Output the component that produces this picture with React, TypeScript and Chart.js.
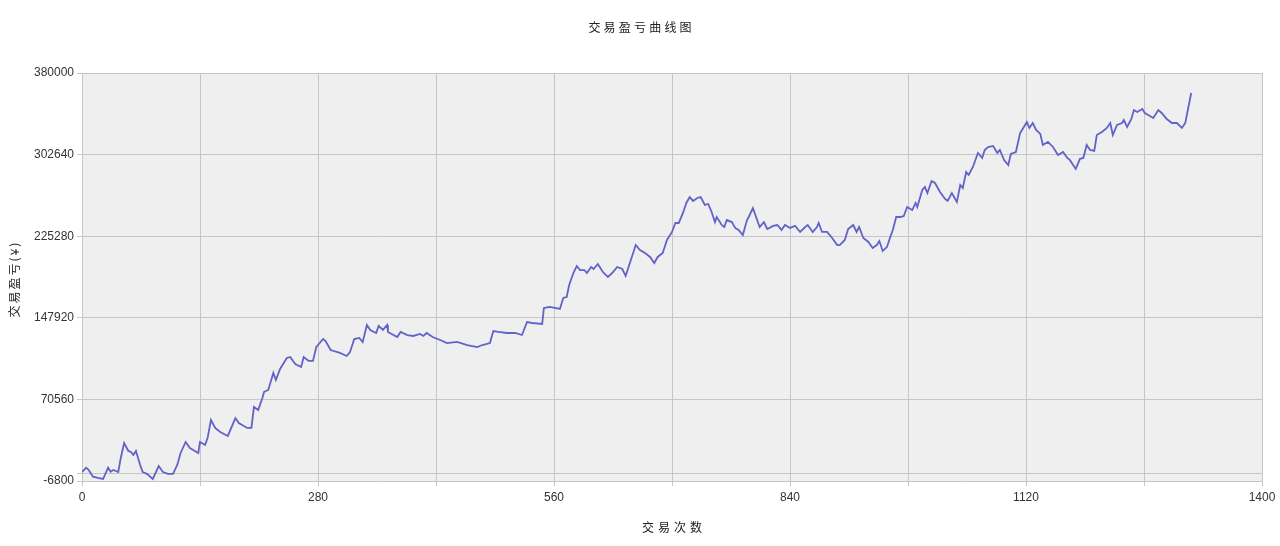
import { useEffect, useRef } from 'react';
import { Chart, registerables, type ChartConfiguration, type Plugin } from 'chart.js';

Chart.register(...registerables);

const TRADE_NO = [
  0, 5, 8, 13, 19, 25, 31, 34, 37, 43, 46, 50, 55, 58, 61, 64, 69, 72, 77, 84,
  91, 96, 102, 108, 113, 117, 123, 128, 138, 140, 146, 149, 153, 158, 164, 173, 182, 186, 196, 201,
  204, 209, 214, 216, 221, 227, 230, 235, 243, 247, 253, 260, 263, 269, 274, 278, 282, 286, 289, 295,
  306, 314, 318, 323, 329, 333, 338, 342, 349, 352, 357, 362, 363, 374, 378, 386, 393, 401, 405, 409,
  416, 425, 433, 445, 457, 469, 475, 484, 488, 494, 504, 514, 522, 528, 534, 546, 548, 555, 567, 571,
  575, 578, 583, 587, 591, 596, 599, 604, 607, 612, 618, 624, 630, 635, 641, 645, 650, 657, 662, 668,
  674, 679, 683, 689, 694, 700, 704, 708, 713, 717, 721, 725, 730, 734, 739, 743, 747, 751, 753, 759,
  762, 765, 771, 775, 779, 784, 789, 791, 796, 801, 804, 809, 813, 820, 825, 830, 834, 840, 846, 852,
  858, 861, 867, 872, 874, 878, 884, 890, 896, 899, 905, 909, 915, 919, 922, 927, 933, 938, 943, 946,
  950, 955, 959, 962, 966, 971, 975, 979, 985, 989, 991, 997, 1000, 1003, 1008, 1012, 1018, 1024, 1027, 1032,
  1036, 1038, 1042, 1045, 1049, 1052, 1057, 1063, 1068, 1071, 1075, 1081, 1086, 1089, 1094, 1099, 1102, 1108, 1113, 1116,
  1121, 1124, 1128, 1132, 1137, 1140, 1146, 1152, 1158, 1164, 1169, 1172, 1179, 1184, 1188, 1192, 1196, 1201, 1204, 1210,
  1216, 1220, 1223, 1228, 1234, 1236, 1240, 1245, 1248, 1252, 1258, 1261, 1265, 1271, 1277, 1281, 1287, 1293, 1299, 1305,
  1309, 1312, 1316,
];

// cumulative profit at each sampled trade
const PROFIT = [
  1700, 5800, 3600, -2700, -3900, -4900, 5800, 2000, 3600, 1700, 15000, 29200, 21700, 20700, 17900, 21700, 8400, 1700, 0, -4900,
  7400, 1700, -100, -100, 8400, 19800, 30200, 24500, 19800, 30200, 27300, 34000, 51000, 43500, 39700, 35900, 52900, 48200, 43500, 43500,
  63400, 60500, 71900, 77600, 79500, 95600, 89000, 99400, 109800, 110800, 104100, 101300, 110800, 107000, 107000, 120200, 124000, 127800, 125900, 117400,
  114600, 111700, 115500, 127800, 128800, 125000, 141100, 136400, 133500, 140200, 136400, 141100, 134500, 129700, 134500, 131600, 130700, 132600, 130700, 133500,
  129700, 126900, 124000, 125000, 122100, 120200, 122100, 124000, 135400, 134500, 133500, 133500, 131600, 143900, 143000, 142100, 157200, 158200, 156300, 166700,
  167600, 179000, 190400, 197000, 193200, 193200, 190400, 196100, 194200, 198900, 191300, 186600, 191300, 196100, 194200, 187600, 199900, 216900, 212200, 209400,
  205600, 199900, 205600, 209400, 221700, 229300, 237800, 237800, 247300, 256800, 262400, 258700, 261500, 262400, 254900, 255800, 248200, 238700, 243500, 235900,
  234000, 240600, 238700, 233100, 231200, 226400, 240600, 243500, 252000, 240600, 234000, 238700, 232100, 235000, 235900, 231200, 235900, 233100, 235000, 229300,
  234000, 235900, 229300, 234000, 237800, 229300, 229300, 223600, 216900, 216900, 221700, 232100, 235900, 229300, 234000, 223600, 219800, 214100, 216900, 220700,
  211300, 215000, 224500, 231200, 243500, 243500, 244400, 253000, 250100, 256800, 253000, 269100, 271900, 266200, 277600, 275700, 267200, 260600, 258700, 266200,
  260600, 257700, 273800, 271000, 286100, 283300, 290900, 304200, 299400, 307000, 309800, 310800, 304200, 307000, 297500, 292800, 303200, 305100, 323100, 326900,
  333500, 327900, 332600, 326000, 322200, 311800, 314700, 309900, 302300, 305200, 299500, 297600, 289100, 298600, 299500, 311800, 307000, 306100, 321200, 324100,
  327900, 332600, 321200, 330700, 332600, 335400, 328800, 336400, 344900, 343000, 345900, 342100, 340200, 337300, 344900, 342100, 336400, 332600, 332600, 327900,
  332600, 344900, 361000,
];

const Y_MIN = -6800;
const Y_MAX = 380000;
const Y_STEP = 77360;
const X_MAX = 1400;
const X_STEP = 140;
const X_LABEL_STEP = 280;

const TITLE = '交易盈亏曲线图';
const X_TITLE = '交易次数';
const Y_TITLE = '交易盈亏(¥)';

const TICK_FONT = { family: '"Liberation Sans", Arial, sans-serif', size: 12 };
const CJK_FAMILY = '"Noto Sans CJK SC", "Liberation Sans", sans-serif';

export default function App() {
  const canvasRef = useRef<HTMLCanvasElement>(null);

  useEffect(() => {
    const canvas = canvasRef.current;
    if (!canvas) return;

    const plotBg: Plugin = {
      id: 'plotBg',
      beforeDraw(c) {
        const a = c.chartArea;
        if (!a) return;
        const ctx = c.ctx;
        ctx.save();
        ctx.fillStyle = '#efefef';
        ctx.fillRect(a.left, a.top, a.right - a.left, a.bottom - a.top);
        ctx.restore();
      },
    };

    // the titles are spaced out a little, which the built-in title can't do
    const spacedTitles: Plugin = {
      id: 'spacedTitles',
      afterDraw(c) {
        const a = c.chartArea;
        const ctx = c.ctx as CanvasRenderingContext2D & { letterSpacing?: string };
        const put = (text: string, x: number, y: number, rot: number, sp: number) => {
          ctx.save();
          ctx.letterSpacing = sp + 'px';
          ctx.font = '12px ' + CJK_FAMILY;
          ctx.fillStyle = '#222';
          ctx.textAlign = 'center';
          ctx.textBaseline = 'middle';
          ctx.translate(x, y);
          ctx.rotate(rot);
          ctx.fillText(text, sp / 2, 0);
          ctx.restore();
        };
        put(TITLE, c.width / 2, 27, 0, 3.2);
        put(X_TITLE, (a.left + a.right) / 2, 527, 0, 4);
        put(Y_TITLE, 14, (a.top + a.bottom) / 2 + 3, -Math.PI / 2, 2);
      },
    };

    const data = TRADE_NO.map((t, i) => ({ x: t, y: PROFIT[i] }));

    const config: ChartConfiguration<'line'> = {
      type: 'line',
      data: {
        datasets: [
          {
            label: '交易盈亏',
            data,
            borderColor: '#6262c8',
            borderWidth: 1.8,
            pointRadius: 0,
            tension: 0,
            fill: false,
          },
        ],
      },
      options: {
        responsive: false,
        maintainAspectRatio: false,
        animation: false,
        layout: { padding: { left: 0, right: 18, top: 73, bottom: 0 } },
        plugins: {
          legend: { display: false },
          tooltip: { enabled: false },
          title: { display: false },
        },
        scales: {
          x: {
            type: 'linear',
            min: 0,
            max: X_MAX,
            afterFit: (s) => {
              s.height = 65;
            },
            ticks: {
              stepSize: X_STEP,
              autoSkip: false,
              maxRotation: 0,
              color: '#333',
              font: TICK_FONT,
              padding: 4,
              callback: (v) => (Number(v) % X_LABEL_STEP === 0 ? String(v) : ''),
            },
            grid: { color: '#c6c6c6', tickLength: 5, lineWidth: 1 },
            border: { color: '#c6c6c6' },
          },
          y: {
            type: 'linear',
            min: Y_MIN,
            max: Y_MAX,
            afterFit: (s) => {
              s.width = 82;
            },
            afterBuildTicks: (s) => {
              s.ticks.push({ value: 0 });
              s.ticks.sort((a, b) => a.value - b.value);
            },
            ticks: {
              stepSize: Y_STEP,
              autoSkip: false,
              color: '#333',
              font: TICK_FONT,
              padding: 3,
              callback: (v) => (Number(v) === 0 ? '' : String(v)),
            },
            grid: { color: '#c6c6c6', tickLength: 5, lineWidth: 1 },
            border: { color: '#c6c6c6' },
          },
        },
      },
      plugins: [plotBg, spacedTitles],
    };

    const chart = new Chart(canvas, config);
    return () => {
      chart.destroy();
    };
  }, []);

  return (
    <div style={{ position: 'fixed', left: 0, top: 0, width: 1280, height: 546, background: '#fff' }}>
      <canvas ref={canvasRef} width={1280} height={546} style={{ width: 1280, height: 546 }} />
    </div>
  );
}
